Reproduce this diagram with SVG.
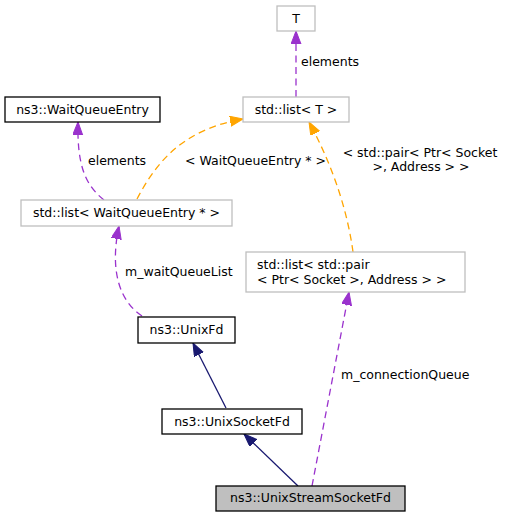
<svg xmlns="http://www.w3.org/2000/svg" width="507" height="517" viewBox="0 0 507 517">
<style>
text{font-family:"DejaVu Sans","Liberation Sans",sans-serif;font-size:12.5px;fill:#000}
.c{text-anchor:middle}
.g{fill:#fff;stroke:#bfbfbf;stroke-width:1.3}
.k{fill:#fff;stroke:#000;stroke-width:1.3}
.sel{fill:#bfbfbf;stroke:#000;stroke-width:1.3}
.p{fill:none;stroke:#9a32cd;stroke-width:1.3;stroke-dasharray:7,4.5}
.o{fill:none;stroke:#ffa500;stroke-width:1.3;stroke-dasharray:7,4.5}
.n{fill:none;stroke:#191970;stroke-width:1.3}
</style>
<defs>
<marker id="ap" markerUnits="userSpaceOnUse" markerWidth="15" markerHeight="12" refX="13" refY="5" orient="auto"><path d="M0,0 L13,5 L0,10 Z" fill="#9a32cd" stroke="#9a32cd"/></marker>
<marker id="ao" markerUnits="userSpaceOnUse" markerWidth="15" markerHeight="12" refX="13" refY="5" orient="auto"><path d="M0,0 L13,5 L0,10 Z" fill="#ffa500" stroke="#ffa500"/></marker>
<marker id="an" markerUnits="userSpaceOnUse" markerWidth="15" markerHeight="12" refX="13" refY="5" orient="auto"><path d="M0,0 L13,5 L0,10 Z" fill="#191970" stroke="#191970"/></marker>
</defs>
<rect width="507" height="517" fill="#fff"/>
<g id="connectors">
<path class="p" d="M296,97 L296,31" marker-end="url(#ap)"/>
<text x="301" y="66">elements</text>
<path class="p" d="M104,200 C85,185 77,165 78,122" marker-end="url(#ap)"/>
<text x="88" y="165">elements</text>
<path class="o" d="M137,199 C155,165 180,130 243,119" marker-end="url(#ao)"/>
<text x="185" y="165">&lt; WaitQueueEntry * &gt;</text>
<path class="o" d="M353,252 C348,215 335,170 309,122" marker-end="url(#ao)"/>
<text class="c" x="420" y="157">&lt; std::pair&lt; Ptr&lt; Socket</text>
<text class="c" x="421" y="171">&gt;, Address &gt; &gt;</text>
<path class="p" d="M142,316 C118,300 110,268 119,226" marker-end="url(#ap)"/>
<text x="125" y="276">m_waitQueueList</text>
<path class="n" d="M226,408 L193,343" marker-end="url(#an)"/>
<path class="n" d="M298,486 L244,434" marker-end="url(#an)"/>
<path class="p" d="M312,486 L349,292" marker-end="url(#ap)"/>
<text x="341" y="379">m_connectionQueue</text>
</g>
<g id="node-T"><rect class="g" x="277" y="6" width="38" height="25"/><text class="c" x="296" y="22.5">T</text></g>
<g id="node-listT"><rect class="g" x="243" y="97" width="106" height="25"/><text class="c" x="296" y="113.5">std::list&lt; T &gt;</text></g>
<g id="node-WaitQueueEntry"><rect class="k" x="5" y="97" width="155" height="25"/><text class="c" x="82.5" y="113.5">ns3::WaitQueueEntry</text></g>
<g id="node-listWQE"><rect class="g" x="21" y="200" width="211" height="26"/><text class="c" x="126.5" y="217">std::list&lt; WaitQueueEntry * &gt;</text></g>
<g id="node-listPair"><rect class="g" x="246" y="252" width="219" height="40"/><text x="257" y="268.5">std::list&lt; std::pair</text><text x="257" y="283.5">&lt; Ptr&lt; Socket &gt;, Address &gt; &gt;</text></g>
<g id="node-UnixFd"><rect class="k" x="138" y="317" width="97" height="26"/><text class="c" x="186.5" y="334">ns3::UnixFd</text></g>
<g id="node-UnixSocketFd"><rect class="k" x="162" y="409" width="140" height="25"/><text class="c" x="232" y="425.5">ns3::UnixSocketFd</text></g>
<g id="node-UnixStreamSocketFd"><rect class="sel" x="216" y="486" width="189" height="25"/><text class="c" x="310.5" y="502">ns3::UnixStreamSocketFd</text></g>
</svg>
